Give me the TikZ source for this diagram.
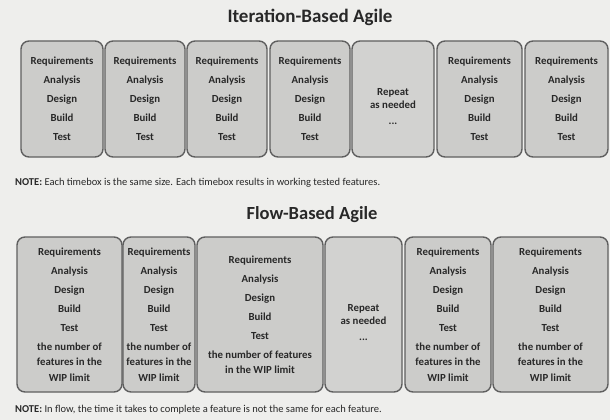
\documentclass[tikz,border=0pt]{standalone}
\usepackage{fontspec}
\setmainfont{Carlito}
\usepackage{tikz}
\usetikzlibrary{positioning}
\definecolor{paper}{RGB}{238, 238, 236}
\definecolor{boxgray}{RGB}{204, 204, 202}
\definecolor{repeatgray}{RGB}{210, 210, 208}
\definecolor{edgegray}{RGB}{95, 95, 95}
\definecolor{inkgray}{RGB}{40, 40, 40}

\newcommand{\iterstages}{Requirements\\[6pt]Analysis\\[6pt]Design\\[6pt]Build\\[6pt]Test}
\newcommand{\flowstages}{Requirements\\[3.5pt]Analysis\\[3.5pt]Design\\[3.5pt]Build\\[3.5pt]Test\\[3.5pt]}
\newcommand{\repeatnote}{\mbox{}\\[10pt]Repeat\\as needed\\[3pt]...}

\tikzset{
    timebox/.style={draw=edgegray, fill=boxgray, rounded corners=8pt, line width=1.4pt,
        inner sep=1pt, align=center, text=inkgray,
        font=\fontsize{10.8}{13}\selectfont\bfseries},
    flowbox/.style={timebox, font=\fontsize{10.8}{15.5}\selectfont\bfseries},
    repeatbox/.style={timebox, fill=repeatgray},
    headtitle/.style={text=inkgray, font=\fontsize{19}{21}\selectfont\bfseries},
    notetext/.style={text=inkgray, anchor=west, inner sep=0pt, font=\fontsize{10.5}{12}\selectfont}
}

\begin{document}
\begin{tikzpicture}[x=1pt, y=-1pt]
    \fill[paper] (0, 0) rectangle (610, 420);
    \useasboundingbox (0, 0) rectangle (610, 420);

    % Block 1: Iteration-Based Agile
    \node[headtitle] (t1) at (310, 17) {Iteration-Based Agile};

    \node[timebox, minimum width=82pt, minimum height=116pt] (i1) at (62, 99) {\iterstages};
    \node[timebox, minimum width=80pt, minimum height=116pt] (i2) at (145, 99) {\iterstages};
    \node[timebox, minimum width=80pt, minimum height=116pt] (i3) at (227, 99) {\iterstages};
    \node[timebox, minimum width=80pt, minimum height=116pt] (i4) at (310, 99) {\iterstages};
    \node[repeatbox, minimum width=82pt, minimum height=116pt] (i5) at (393, 99) {\repeatnote};
    \node[timebox, minimum width=85pt, minimum height=116pt] (i6) at (479.5, 99) {\iterstages};
    \node[timebox, minimum width=83pt, minimum height=116pt] (i7) at (566.5, 99) {\iterstages};

    \node[notetext] (n1) at (15, 183) {\textbf{NOTE:} Each timebox is the same size. Each timebox results in working tested features.};

    % Block 2: Flow-Based Agile
    \node[headtitle, font=\fontsize{18.5}{21}\selectfont\bfseries] (t2) at (312, 215) {Flow-Based Agile};

    \node[flowbox, minimum width=105pt, minimum height=155pt] (f1) at (69.5, 314.5) {\flowstages the number of\\features in the\\WIP limit};
    \node[flowbox, minimum width=72pt, minimum height=155pt] (f2) at (159, 314.5) {\flowstages the number of\\features in the\\WIP limit};
    \node[flowbox, minimum width=126pt, minimum height=155pt] (f3) at (260, 314.5) {\flowstages the number of features\\in the WIP limit};
    \node[repeatbox, minimum width=77pt, minimum height=155pt] (f4) at (363.5, 314.5) {\repeatnote};
    \node[flowbox, minimum width=86pt, minimum height=155pt] (f5) at (448, 314.5) {\flowstages the number of\\features in the\\WIP limit};
    \node[flowbox, minimum width=115pt, minimum height=155pt] (f6) at (550.5, 314.5) {\flowstages the number of\\features in the\\WIP limit};

    \node[notetext] (n2) at (15, 410) {\textbf{NOTE:} In flow, the time it takes to complete a feature is not the same for each feature.};
\end{tikzpicture}
\end{document}
